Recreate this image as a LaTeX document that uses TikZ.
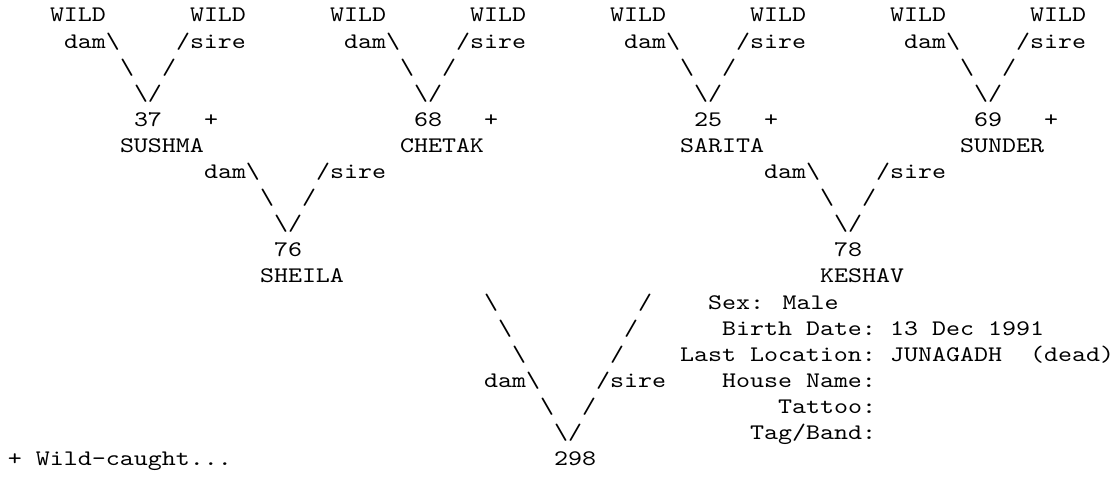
\documentclass[tikz,border=0pt]{standalone}
\usepackage{fontspec}
\newfontfamily\pedfont[FakeStretch=1.2]{lmmono10-regular.otf}
\usetikzlibrary{positioning}

\begin{document}
\begin{tikzpicture}[x=7pt, y=-13.05pt,
  txt/.style={anchor=base west, inner sep=0pt, outer sep=0pt,
    font=\pedfont\fontsize{11.11pt}{13pt}\selectfont}]
\useasboundingbox (-0.5714,0.157) rectangle (79.286,18.471);
% grandparents, left pair
\node (wAd) at (3,1) [txt] {WILD};
\node (wAs) at (13,1) [txt] {WILD};
\node (dA) at (4,2) [txt] {dam\textbackslash};
\node (sA) at (12,2) [txt] {/sire};
\node (lA) at (8,3) [txt] {\textbackslash};
\node (rA) at (11,3) [txt] {/};
\node (vA) at (9,4) [txt] {\textbackslash/};
\node (nA) at (9,5) [txt] {37};
\node (pA) at (14,5) [txt] {+};
\node (sushma) at (8,6) [txt] {SUSHMA};
\node (wBd) at (23,1) [txt] {WILD};
\node (wBs) at (33,1) [txt] {WILD};
\node (dB) at (24,2) [txt] {dam\textbackslash};
\node (sB) at (32,2) [txt] {/sire};
\node (lB) at (28,3) [txt] {\textbackslash};
\node (rB) at (31,3) [txt] {/};
\node (vB) at (29,4) [txt] {\textbackslash/};
\node (nB) at (29,5) [txt] {68};
\node (pB) at (34,5) [txt] {+};
\node (chetak) at (28,6) [txt] {CHETAK};
% grandparents, right pair
\node (wCd) at (43,1) [txt] {WILD};
\node (wCs) at (53,1) [txt] {WILD};
\node (dC) at (44,2) [txt] {dam\textbackslash};
\node (sC) at (52,2) [txt] {/sire};
\node (lC) at (48,3) [txt] {\textbackslash};
\node (rC) at (51,3) [txt] {/};
\node (vC) at (49,4) [txt] {\textbackslash/};
\node (nC) at (49,5) [txt] {25};
\node (pC) at (54,5) [txt] {+};
\node (sarita) at (48,6) [txt] {SARITA};
\node (wDd) at (63,1) [txt] {WILD};
\node (wDs) at (73,1) [txt] {WILD};
\node (dD) at (64,2) [txt] {dam\textbackslash};
\node (sD) at (72,2) [txt] {/sire};
\node (lD) at (68,3) [txt] {\textbackslash};
\node (rD) at (71,3) [txt] {/};
\node (vD) at (69,4) [txt] {\textbackslash/};
\node (nD) at (69,5) [txt] {69};
\node (pD) at (74,5) [txt] {+};
\node (sunder) at (68,6) [txt] {SUNDER};
% parents
\node (dE) at (14,7) [txt] {dam\textbackslash};
\node (sE) at (22,7) [txt] {/sire};
\node (lE) at (18,8) [txt] {\textbackslash};
\node (rE) at (21,8) [txt] {/};
\node (vE) at (19,9) [txt] {\textbackslash/};
\node (nE) at (19,10) [txt] {76};
\node (sheila) at (18,11) [txt] {SHEILA};
\node (dF) at (54,7) [txt] {dam\textbackslash};
\node (sF) at (62,7) [txt] {/sire};
\node (lF) at (58,8) [txt] {\textbackslash};
\node (rF) at (61,8) [txt] {/};
\node (vF) at (59,9) [txt] {\textbackslash/};
\node (nF) at (59,10) [txt] {78};
\node (keshav) at (58,11) [txt] {KESHAV};
% the animal itself
\node (l1) at (34,12) [txt] {\textbackslash};
\node (r1) at (45,12) [txt] {/};
\node (l2) at (35,13) [txt] {\textbackslash};
\node (r2) at (44,13) [txt] {/};
\node (l3) at (36,14) [txt] {\textbackslash};
\node (r3) at (43,14) [txt] {/};
\node (dG) at (34,15) [txt] {dam\textbackslash};
\node (sG) at (42,15) [txt] {/sire};
\node (l5) at (38,16) [txt] {\textbackslash};
\node (r5) at (41,16) [txt] {/};
\node (vG) at (39,17) [txt] {\textbackslash/};
\node (nG) at (39,18) [txt] {298};
% record fields
\node (sex) at (50,12) [txt] {Sex: Male};
\node (birth) at (51,13) [txt] {Birth Date:};
\node (birthv) at (63,13) [txt] {13 Dec 1991};
\node (loc) at (48,14) [txt] {Last Location:};
\node (locv) at (63,14) [txt] {JUNAGADH};
\node (dead) at (73,14) [txt] {(dead)};
\node (house) at (51,15) [txt] {House Name:};
\node (tattoo) at (55,16) [txt] {Tattoo:};
\node (tag) at (53,17) [txt] {Tag/Band:};
\node (legend) at (0,18) [txt] {+ Wild-caught...};
\end{tikzpicture}
\end{document}
